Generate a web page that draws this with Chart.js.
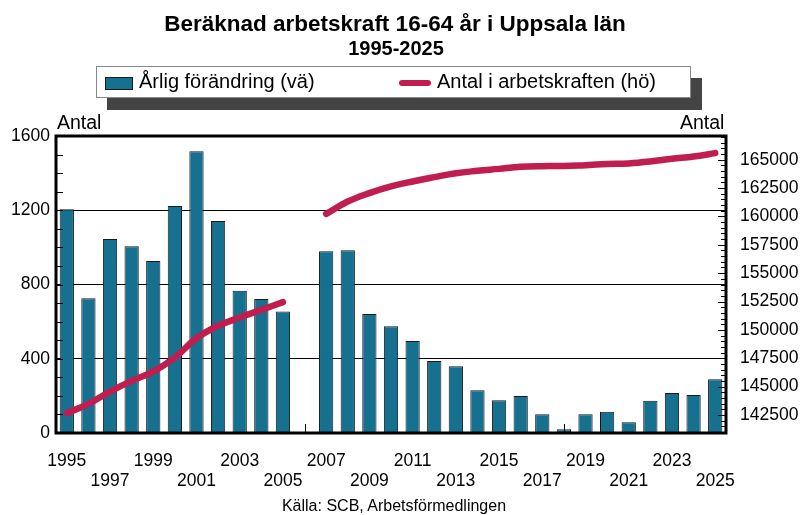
<!DOCTYPE html>
<html>
<head>
<meta charset="utf-8">
<script src="https://cdn.jsdelivr.net/npm/chart.js@4"></script>
<style>
  body { margin: 0; background: #fff; font-family: "Liberation Sans", Arial, sans-serif; }
  #wrap { position: relative; width: 803px; height: 515px; }
  #grafik { position: absolute; left: 0; top: 0; }
  .txt { position: absolute; white-space: nowrap; color: #000; }
  #title { left: 0; width: 790px; top: 11px; text-align: center; font-weight: bold; font-size: 22.5px; }
  #subtitle { left: 0; width: 792px; top: 37px; text-align: center; font-weight: bold; font-size: 20px; }
  #legend { position: absolute; left: 96px; top: 66px; width: 593px; height: 30px; background: #fff;
            border: 1px solid #888; box-shadow: 11px 12px 0 #444; }
  .sw-bar { position: absolute; left: 8px; top: 10px; width: 26px; height: 11px; background: #16708f; border: 1px solid #1a1a1a; }
  .sw-line { position: absolute; left: 302px; top: 13px; width: 32px; height: 6px; border-radius: 3px; background: #c01e4e; }
  .lg { position: absolute; top: 3px; font-size: 20px; }
  #antalL { left: 57px; top: 111px; font-size: 19.5px; }
  #antalR { left: 680px; top: 111px; font-size: 19.5px; }
  #source { left: 0; width: 788px; top: 497px; text-align: center; font-size: 16px; }
</style>
</head>
<body>
<div id="wrap">
  <canvas id="grafik" width="803" height="515"></canvas>
  <div class="txt" id="title">Beräknad arbetskraft 16-64 år i Uppsala län</div>
  <div class="txt" id="subtitle">1995-2025</div>
  <div id="legend">
    <div class="sw-bar"></div>
    <div class="txt lg" style="left:42px">Årlig förändring (vä)</div>
    <div class="sw-line"></div>
    <div class="txt lg" style="left:340px">Antal i arbetskraften (hö)</div>
  </div>
  <div class="txt" id="antalL">Antal</div>
  <div class="txt" id="antalR">Antal</div>
  <div class="txt" id="source">Källa: SCB, Arbetsförmedlingen</div>
</div>
<script>
const years = ['1995','1996','1997','1998','1999','2000','2001','2002','2003','2004','2005','2006','2007','2008','2009','2010',
               '2011','2012','2013','2014','2015','2016','2017','2018','2019','2020','2021','2022','2023','2024','2025'];

// Årlig förändring (vänster axel)
const forandring = [1205, 726, 1045, 1006, 927, 1223, 1518, 1142, 767, 722, 654, null, 979, 984, 641, 575,
                    496, 388, 359, 230, 176, 199, 101, 20, 101, 115, 58, 174, 215, 205, 289];

// Antal i arbetskraften (höger axel)
const antal = [142650, 143470, 144560, 145500, 146320, 147560, 149260, 150350, 151090, 151760, 152440, null,
               160230, 161320, 162060, 162650, 163090, 163470, 163820, 164030, 164200, 164380, 164440, 164450,
               164530, 164620, 164680, 164850, 165090, 165290, 165590];

const leftTicks = [0, 400, 800, 1200, 1600];
const rightTicks = [142500, 145000, 147500, 150000, 152500, 155000, 157500, 160000, 162500, 165000];
const xMarks = ['2006', '2018'];

const fontTick = { family: 'Liberation Sans', size: 17.5, lineHeight: 1.15 };

// ram, små streck inåt
const ramPlugin = {
  id: 'ram',
  afterDraw(chart) {
    const ctx = chart.ctx;
    const a = chart.chartArea;
    const y = chart.scales.y, y1 = chart.scales.y1, x = chart.scales.x;
    ctx.save();
    ctx.strokeStyle = '#000';
    ctx.lineWidth = 1;
    ctx.beginPath();
    for (let v = 100; v < 1600; v += 100) {
      const py = Math.round(y.getPixelForValue(v)) + 0.5;
      ctx.moveTo(a.left, py);
      ctx.lineTo(a.left + 7, py);
    }
    for (let v = 141000; v <= 167000; v += 500) {
      const py = Math.round(y1.getPixelForValue(v)) + 0.5;
      const len = (v % 2500 === 0) ? 8 : 5;
      ctx.moveTo(a.right, py);
      ctx.lineTo(a.right - len, py);
    }
    xMarks.forEach(m => {
      const px = Math.round(x.getPixelForValue(years.indexOf(m))) + 0.5;
      ctx.moveTo(px, a.bottom);
      ctx.lineTo(px, a.bottom - 9);
    });
    ctx.stroke();
    ctx.lineWidth = 3;
    ctx.strokeRect(a.left, a.top, a.right - a.left, a.bottom - a.top);
    ctx.restore();
  }
};

new Chart(
  document.getElementById('grafik'),
  {
    type: 'bar',
    data: {
      labels: years,
      datasets: [
        {
          type: 'bar',
          label: 'Årlig förändring (vä)',
          data: forandring,
          yAxisID: 'y',
          backgroundColor: '#16708f',
          borderColor: '#1a1a1a',
          borderWidth: 1,
          barPercentage: 0.66,
          categoryPercentage: 1,
          order: 2
        },
        {
          type: 'line',
          label: 'Antal i arbetskraften (hö)',
          data: antal,
          yAxisID: 'y1',
          borderColor: '#c01e4e',
          backgroundColor: '#c01e4e',
          borderWidth: 6.5,
          borderCapStyle: 'round',
          borderJoinStyle: 'round',
          pointRadius: 0,
          tension: 0.4,
          spanGaps: false,
          order: 1
        }
      ]
    },
    options: {
      responsive: false,
      animation: false,
      layout: { padding: { top: 136, left: 0, right: 0, bottom: 0 } },
      plugins: {
        legend: { display: false },
        tooltip: { enabled: false }
      },
      scales: {
        x: {
          grid: { display: false },
          border: { display: false },
          ticks: {
            autoSkip: false,
            maxRotation: 0,
            padding: 10,
            color: '#000',
            font: fontTick,
            callback: function(val, i) {
              const yr = years[i];
              if (i % 2 === 1) return '';
              return (i % 4 === 0) ? yr : ['', yr];
            }
          },
          afterFit: function(scale) { scale.height = 82; }
        },
        y: {
          position: 'left',
          min: 0,
          max: 1600,
          grid: { color: '#000', lineWidth: 1, drawTicks: false },
          border: { display: false },
          ticks: { padding: 6, color: '#000', font: fontTick, callback: v => String(v) },
          afterBuildTicks: function(scale) { scale.ticks = leftTicks.map(v => ({ value: v })); },
          afterFit: function(scale) { scale.width = 56; }
        },
        y1: {
          position: 'right',
          min: 140900,
          max: 167100,
          grid: { display: false, drawTicks: false },
          border: { display: false },
          ticks: { padding: 14, color: '#000', font: fontTick, callback: v => String(v) },
          afterBuildTicks: function(scale) { scale.ticks = rightTicks.map(v => ({ value: v })); },
          afterFit: function(scale) { scale.width = 77; }
        }
      }
    },
    plugins: [ramPlugin]
  }
);
</script>
</body>
</html>
